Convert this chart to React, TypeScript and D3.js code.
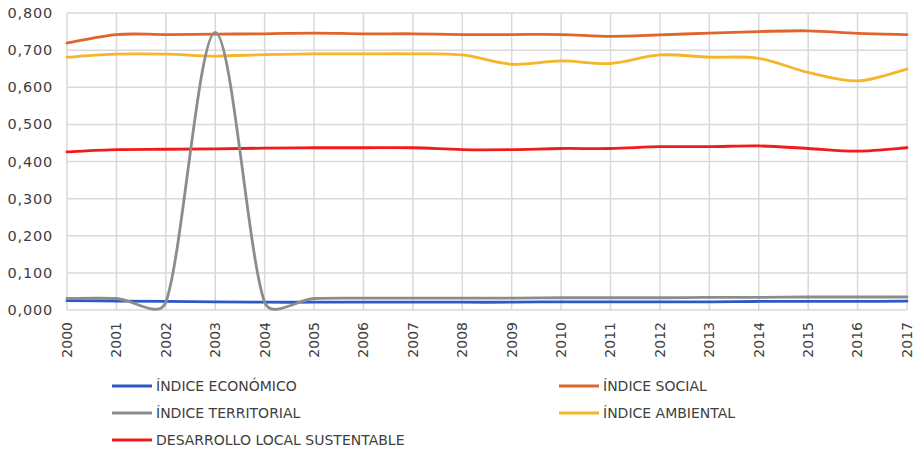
import React from "react";
import * as d3 from "d3";

const years = [2000, 2001, 2002, 2003, 2004, 2005, 2006, 2007, 2008, 2009, 2010, 2011, 2012, 2013, 2014, 2015, 2016, 2017];
const yTicks = [0, 0.1, 0.2, 0.3, 0.4, 0.5, 0.6, 0.7, 0.8];

const economico = [0.025, 0.024, 0.023, 0.022, 0.021, 0.021, 0.021, 0.021, 0.021, 0.021, 0.022, 0.022, 0.022, 0.022, 0.023, 0.023, 0.023, 0.024];
const social = [0.719, 0.742, 0.742, 0.743, 0.744, 0.746, 0.744, 0.744, 0.742, 0.742, 0.742, 0.737, 0.741, 0.746, 0.750, 0.752, 0.745, 0.742];
const territorial = [0.031, 0.031, 0.021, 0.748, 0.021, 0.031, 0.032, 0.032, 0.032, 0.032, 0.033, 0.033, 0.033, 0.034, 0.034, 0.035, 0.035, 0.035];
const ambiental = [0.681, 0.689, 0.689, 0.684, 0.688, 0.690, 0.690, 0.690, 0.687, 0.662, 0.671, 0.664, 0.687, 0.681, 0.678, 0.640, 0.617, 0.649];
const desarrollo = [0.426, 0.432, 0.433, 0.434, 0.436, 0.437, 0.437, 0.437, 0.432, 0.432, 0.435, 0.435, 0.440, 0.440, 0.442, 0.435, 0.428, 0.437];

const seriesNames = ["ÍNDICE ECONÓMICO", "ÍNDICE SOCIAL", "ÍNDICE TERRITORIAL", "ÍNDICE AMBIENTAL", "DESARROLLO LOCAL SUSTENTABLE"];
const seriesValues = [economico, social, territorial, ambiental, desarrollo];
const seriesColors = ["#2C59C6", "#E0652C", "#8C8C8C", "#F7B52A", "#F21B1B"];
const drawOrder = [1, 3, 4, 0, 2];
const legendPos = [
  { x: 112, y: 386 },
  { x: 559, y: 386 },
  { x: 112, y: 413 },
  { x: 559, y: 413 },
  { x: 112, y: 440 },
];

const W = 917;
const H = 453;
const left = 67;
const right = 907;
const top = 13;
const bottom = 310;

// Smoothed-line curve in the style of spreadsheet "smooth lines":
// Catmull-Rom tangents, with each control arm limited relative to its segment length.
function smoothCurve(context: any) {
  let pts: [number, number][] = [];
  const k = 0.38;
  const clamp = (vx: number, vy: number, seg: number): [number, number] => {
    const len = Math.hypot(vx, vy);
    const max = k * seg;
    if (len > max && len > 0) {
      const s = max / len;
      return [vx * s, vy * s];
    }
    return [vx, vy];
  };
  return {
    areaStart() {},
    areaEnd() {},
    lineStart() {
      pts = [];
    },
    point(x: number, y: number) {
      pts.push([+x, +y]);
    },
    lineEnd() {
      const n = pts.length;
      if (!n) return;
      context.moveTo(pts[0][0], pts[0][1]);
      for (let i = 0; i < n - 1; i++) {
        const p0 = pts[Math.max(i - 1, 0)];
        const p1 = pts[i];
        const p2 = pts[i + 1];
        const p3 = pts[Math.min(i + 2, n - 1)];
        const seg = Math.hypot(p2[0] - p1[0], p2[1] - p1[1]);
        const a = clamp((p2[0] - p0[0]) / 6, (p2[1] - p0[1]) / 6, seg);
        const b = clamp((p3[0] - p1[0]) / 6, (p3[1] - p1[1]) / 6, seg);
        context.bezierCurveTo(p1[0] + a[0], p1[1] + a[1], p2[0] - b[0], p2[1] - b[1], p2[0], p2[1]);
      }
    },
  };
}

export default function App() {
  const x = d3.scalePoint<number>().domain(years).range([left, right]);
  const y = d3.scaleLinear().domain([0, 0.8]).range([bottom, top]);
  const line = d3
    .line<number>()
    .x((_, i) => x(years[i]) as number)
    .y((d) => y(d))
    .curve(smoothCurve as any);
  const fmt = (v: number) => v.toFixed(3).replace(".", ",");
  const font = "'DejaVu Sans', sans-serif";

  return (
    <svg width={W} height={H} style={{ position: "absolute", left: 0, top: 0, background: "#fff" }}>
      <g stroke="#D9D9D9" strokeWidth={1.5}>
        {yTicks.map((t) => (
          <line key={"h" + t} x1={left} x2={right} y1={y(t)} y2={y(t)} />
        ))}
        {years.map((yr) => (
          <line key={"v" + yr} x1={x(yr)} x2={x(yr)} y1={top} y2={bottom} />
        ))}
      </g>
      <g fontFamily={font} fontSize={14.5} fill="#404040">
        {yTicks.map((t) => (
          <text key={"yl" + t} x={53} y={y(t)} dy="0.35em" textAnchor="end" letterSpacing={0.8}>
            {fmt(t)}
          </text>
        ))}
        {years.map((yr) => (
          <text
            key={"xl" + yr}
            transform={`translate(${x(yr)},${322}) rotate(-90)`}
            dy="0.35em"
            textAnchor="end"
            fontSize={14}
          >
            {yr}
          </text>
        ))}
      </g>
      <g fill="none" strokeWidth={2.8} strokeLinecap="round">
        {drawOrder.map((i) => (
          <path key={"s" + i} d={line(seriesValues[i]) || ""} stroke={seriesColors[i]} />
        ))}
      </g>
      <g fontFamily={font} fontSize={14} fill="#404040">
        {seriesNames.map((n, i) => (
          <g key={"lg" + i} transform={`translate(${legendPos[i].x},${legendPos[i].y})`}>
            <line x1={0} x2={40} y1={0} y2={0} stroke={seriesColors[i]} strokeWidth={2.8} />
            <text x={44} dy="0.36em">
              {n}
            </text>
          </g>
        ))}
      </g>
    </svg>
  );
}
